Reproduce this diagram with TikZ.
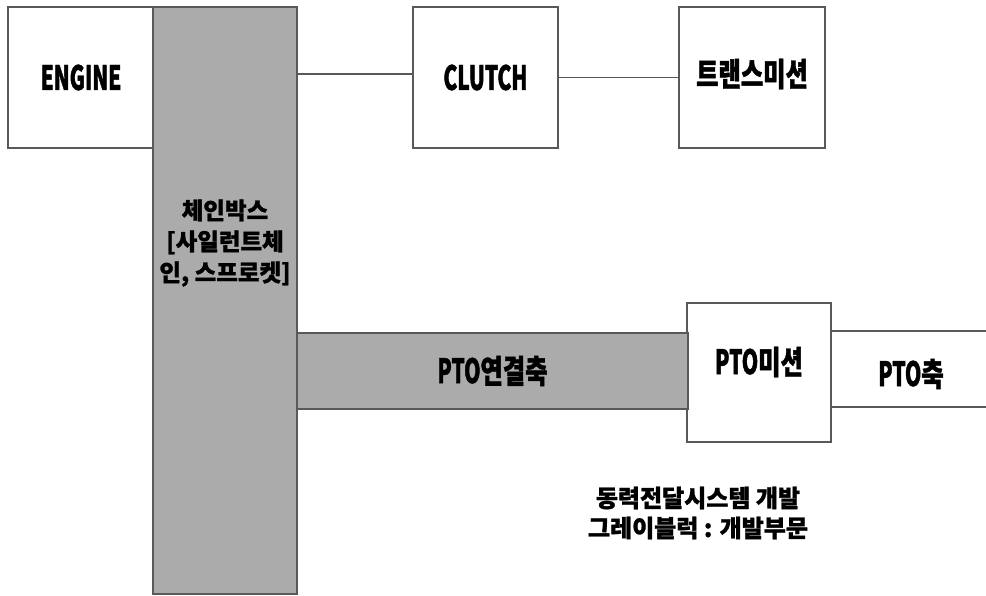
\documentclass[tikz,border=0pt]{standalone}
\usepackage{fontspec}
\setmainfont{Noto Sans CJK KR}[BoldFeatures={FakeBold=1.2}]
\newfontfamily\kr{Noto Sans CJK KR}[FakeStretch=0.75,Scale=1.35,BoldFeatures={FakeBold=1.2}]
\newfontfamily\wide{Noto Sans CJK KR}[FakeStretch=1.0,BoldFeatures={FakeBold=1.2}]
\newfontfamily\lat{Noto Sans CJK KR}[FakeStretch=0.62,Scale=1.4,BoldFeatures={FakeBold=1.2}]
\begin{document}
\begin{tikzpicture}[x=1pt,y=-1pt,
  box/.style={draw=black!65,line width=1.3pt,fill=white,inner sep=0pt},
  grey/.style={draw=black!65,line width=1.3pt,fill=black!33,inner sep=0pt},
  lbl/.style={font=\fontsize{24}{28}\selectfont\bfseries\kr,align=center,inner sep=0pt},
  link/.style={draw=black!65,line width=1.3pt}]
\useasboundingbox (0,0) rectangle (986,596);
% PTO shaft band (open at right)
\node[box,minimum width=144pt,minimum height=139pt] (ptom) at (759,372.5) {};
\coordinate (edgeT) at (990,331);
\coordinate (edgeB) at (990,407);
\draw[link] (ptom.east |- edgeT) -- (edgeT);
\draw[link] (ptom.east |- edgeB) -- (edgeB);
% PTO connecting shaft
\node[grey,minimum width=391pt,minimum height=76pt] (ptoc) at (492.5,371) {};
% top row
\node[box,minimum width=146pt,minimum height=141pt] (engine) at (81,77.5) {};
\node[box,minimum width=145pt,minimum height=141pt] (clutch) at (485.5,77.5) {};
\node[box,minimum width=146pt,minimum height=141pt] (trans) at (752,77.5) {};
\node[grey,minimum width=144pt,minimum height=587pt] (chain) at (225,300.5) {};
\coordinate (ly) at (0,74);
\draw[link] (chain.east |- ly) -- (clutch.west |- ly);
\draw[link] (clutch.east) -- (trans.west);
% labels
\node[lbl] (tEngine) at (engine) {{\lat ENGINE}};
\node[lbl] (tClutch) at (clutch) {{\lat CLUTCH}};
\node[lbl] (tTrans) at (752,74) {트랜스미션};
\node[lbl,font=\fontsize{23.5}{31}\selectfont\bfseries] (tChain) at (225,243) {체인박스\\{[}사일런트체\\인, 스프로켓{]}};
\node[lbl] (tPtoc) at (ptoc) {{\lat PTO}연결축};
\node[lbl] (tPtom) at (759,362) {{\lat PTO}미션};
\node[lbl] (tPtos) at (911,374) {{\lat PTO}축};
\node[lbl,font=\fontsize{24}{30}\selectfont\bfseries\wide] (note) at (698,513) {동력전달시스템 개발\\그레이블럭 : 개발부문};
\end{tikzpicture}
\end{document}
